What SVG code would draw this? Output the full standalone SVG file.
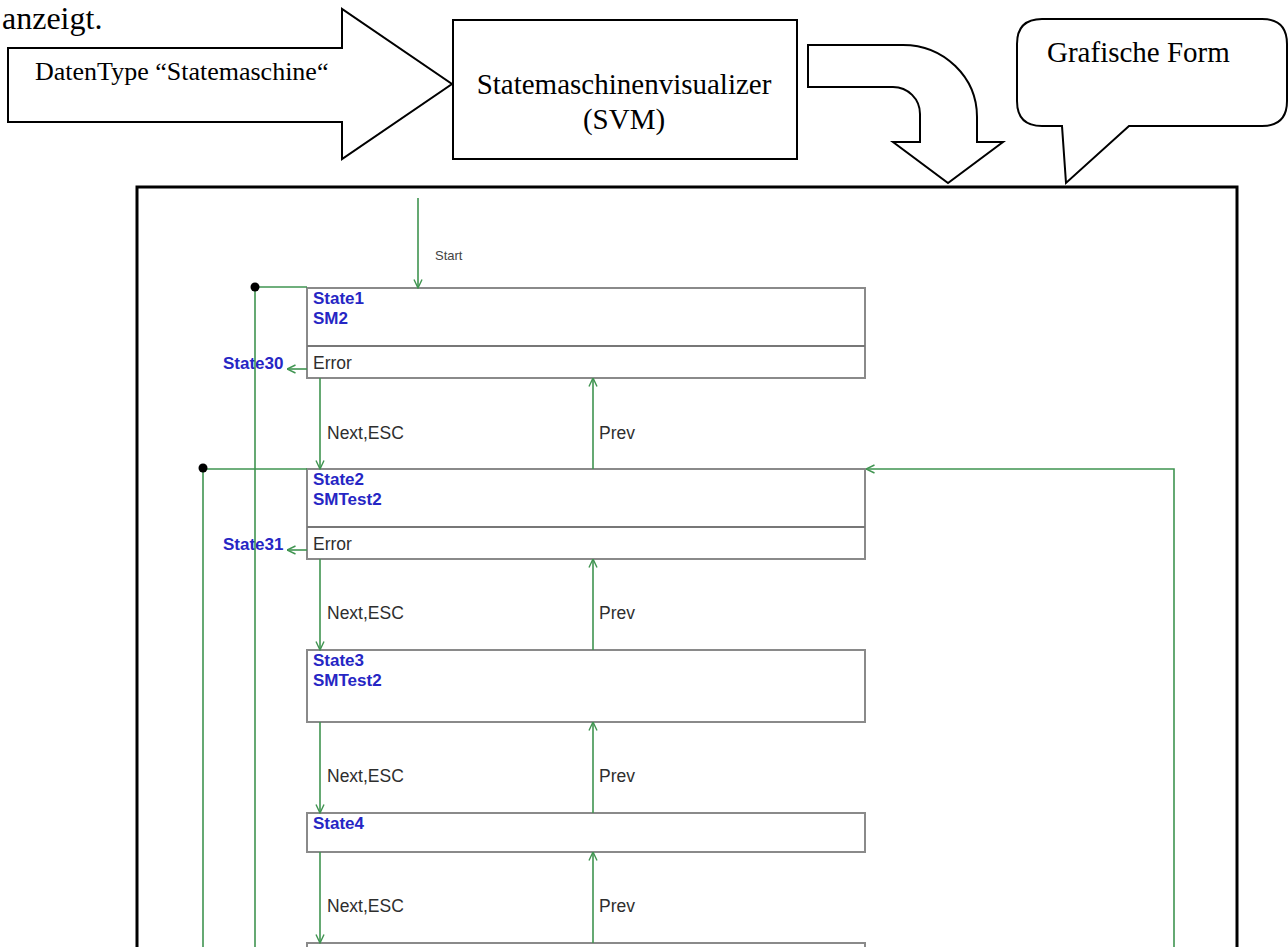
<svg xmlns="http://www.w3.org/2000/svg" width="1288" height="947" viewBox="0 0 1288 947">
  <style>
    .shape { fill: #ffffff; stroke: #000000; stroke-width: 2; stroke-linejoin: miter; }
    .serif { font-family: "Liberation Serif", "Times New Roman", serif; font-size: 29px; fill: #000000; }
    .box { fill: #ffffff; stroke: #8a8a8a; stroke-width: 2; }
    .div { stroke: #777777; stroke-width: 2; fill: none; }
    .wire { stroke: #3f9450; stroke-width: 1.6; fill: none; }
    .arrow { stroke: #3f9450; stroke-width: 1.6; fill: none; marker-end: url(#open); }
    .name { font-family: "Liberation Sans", Arial, sans-serif; font-size: 17px; font-weight: bold; fill: #2626c4; }
    .lbl { font-family: "Liberation Sans", Arial, sans-serif; font-size: 17.5px; fill: #2e2e2e; }
    .small { font-family: "Liberation Sans", Arial, sans-serif; font-size: 13px; fill: #444444; }
  </style>
  <defs>
    <marker id="open" viewBox="0 0 10 10" refX="9.5" refY="5" markerWidth="10" markerHeight="10" markerUnits="userSpaceOnUse" orient="auto">
      <path d="M1,1 L9.5,5 L1,9" fill="none" stroke="#3f9450" stroke-width="1.4"/>
    </marker>
  </defs>

  <rect width="1288" height="947" fill="#ffffff"/>

  <!-- trailing sentence of the surrounding paragraph -->
  <text class="serif" x="2" y="29" style="font-size:32px">anzeigt.</text>

  <!-- input block arrow -->
  <g id="input-arrow">
    <polygon class="shape" points="8,48 342,48 342,9 452,84 342,159 342,122 8,122"/>
    <text class="serif" x="35" y="80" style="font-size:26px">DatenType “Statemaschine“</text>
  </g>

  <!-- visualizer box -->
  <g id="svm">
    <rect class="shape" x="453" y="20" width="344" height="139"/>
    <text class="serif" x="624" y="94" text-anchor="middle">Statemaschinenvisualizer</text>
    <text class="serif" x="624" y="129" text-anchor="middle">(SVM)</text>
  </g>

  <!-- bent arrow down into the output frame -->
  <g id="turn-arrow">
    <path class="shape" d="M808,45 L903,45 A74,72 0 0 1 977,117 L977,142 L1003,142 L948,183 L893,142 L920,142 L920,114 A27,27 0 0 0 893,87 L808,87 Z"/>
  </g>

  <!-- callout -->
  <g id="callout">
    <path class="shape" d="M1042,19 L1262,19 Q1287,19 1287,44 L1287,101 Q1287,126 1262,126 L1129,126 L1066,183 L1062,126 L1042,126 Q1017,126 1017,101 L1017,44 Q1017,19 1042,19 Z"/>
    <text class="serif" x="1047" y="62">Grafische Form</text>
  </g>

  <!-- output frame -->
  <g id="frame">
    <rect x="137" y="187" width="1100" height="800" fill="none" stroke="#000000" stroke-width="3"/>
  </g>

  <!-- state nodes -->
  <g id="state1">
    <rect class="box" x="307" y="288" width="558" height="90"/>
    <line class="div" x1="307" y1="346" x2="865" y2="346"/>
    <text class="name" x="313" y="304">State1</text>
    <text class="name" x="313" y="324">SM2</text>
    <text class="lbl" x="313" y="369">Error</text>
  </g>
  <g id="state2">
    <rect class="box" x="307" y="469" width="558" height="90"/>
    <line class="div" x1="307" y1="527" x2="865" y2="527"/>
    <text class="name" x="313" y="485">State2</text>
    <text class="name" x="313" y="505">SMTest2</text>
    <text class="lbl" x="313" y="550">Error</text>
  </g>
  <g id="state3">
    <rect class="box" x="307" y="650" width="558" height="72"/>
    <text class="name" x="313" y="666">State3</text>
    <text class="name" x="313" y="686">SMTest2</text>
  </g>
  <g id="state4">
    <rect class="box" x="307" y="813" width="558" height="39"/>
    <text class="name" x="313" y="829">State4</text>
  </g>
  <g id="state5">
    <rect class="box" x="307" y="943" width="558" height="40"/>
  </g>

  <!-- error targets -->
  <g id="state30">
    <text class="name" x="223" y="369">State30</text>
  </g>
  <g id="state31">
    <text class="name" x="223" y="550">State31</text>
  </g>

  <!-- transitions -->
  <g id="connectors">
    <line class="arrow" x1="418" y1="198" x2="418" y2="288"/>
    <text class="small" x="435" y="260">Start</text>

    <!-- junction lines on the left -->
    <line class="wire" x1="255" y1="287" x2="307" y2="287"/>
    <line class="wire" x1="255" y1="287" x2="255" y2="947"/>
    <circle cx="255" cy="287" r="4.5" fill="#000000"/>
    <line class="wire" x1="203" y1="469" x2="307" y2="469"/>
    <line class="wire" x1="203" y1="469" x2="203" y2="947"/>
    <circle cx="203" cy="468" r="4.5" fill="#000000"/>

    <!-- error exits -->
    <line class="arrow" x1="307" y1="369" x2="287" y2="369"/>
    <line class="arrow" x1="307" y1="550" x2="287" y2="550"/>

    <!-- Next,ESC / Prev pairs -->
    <line class="arrow" x1="320" y1="378" x2="320" y2="469"/>
    <line class="arrow" x1="593" y1="469" x2="593" y2="378"/>
    <text class="lbl" x="327" y="439">Next,ESC</text>
    <text class="lbl" x="599" y="439">Prev</text>

    <line class="arrow" x1="320" y1="559" x2="320" y2="650"/>
    <line class="arrow" x1="593" y1="650" x2="593" y2="559"/>
    <text class="lbl" x="327" y="619">Next,ESC</text>
    <text class="lbl" x="599" y="619">Prev</text>

    <line class="arrow" x1="320" y1="722" x2="320" y2="813"/>
    <line class="arrow" x1="593" y1="813" x2="593" y2="722"/>
    <text class="lbl" x="327" y="782">Next,ESC</text>
    <text class="lbl" x="599" y="782">Prev</text>

    <line class="arrow" x1="320" y1="852" x2="320" y2="943"/>
    <line class="arrow" x1="593" y1="943" x2="593" y2="852"/>
    <text class="lbl" x="327" y="912">Next,ESC</text>
    <text class="lbl" x="599" y="912">Prev</text>

    <!-- return path on the right -->
    <polyline class="arrow" points="1174,947 1174,469 866,469"/>
  </g>
</svg>
